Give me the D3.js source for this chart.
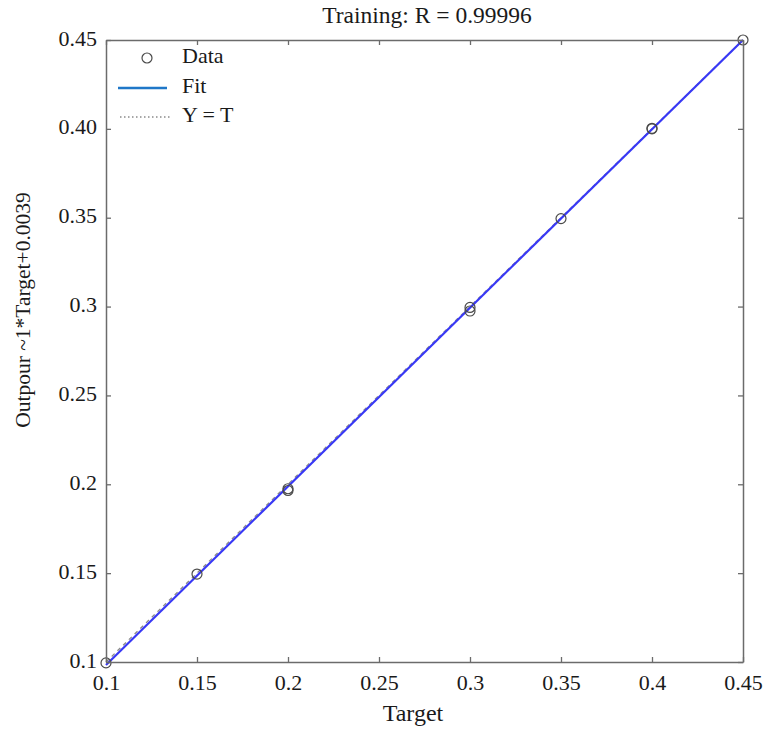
<!DOCTYPE html>
<html><head><meta charset="utf-8">
<script src="https://cdn.jsdelivr.net/npm/d3@7"></script>
<style>
html,body{margin:0;padding:0;background:#fff;}
svg{display:block;}
</style></head>
<body>
<script>
// ---- data ----
const targets = [0.1, 0.15, 0.2, 0.2, 0.3, 0.3, 0.35, 0.4, 0.4, 0.45];
const outputs = [0.0995, 0.1495, 0.1975, 0.1965, 0.2995, 0.2975, 0.3495, 0.4003, 0.4, 0.45];
const fitSlope = 1.005;
const fitIntercept = -0.0022;
const xTickValues = [0.1, 0.15, 0.2, 0.25, 0.3, 0.35, 0.4, 0.45];
const xTickLabels = ["0.1", "0.15", "0.2", "0.25", "0.3", "0.35", "0.4", "0.45"];
const yTickValues = [0.1, 0.15, 0.2, 0.25, 0.3, 0.35, 0.4, 0.45];
const yTickLabels = ["0.1", "0.15", "0.2", "0.25", "0.3", "0.35", "0.40", "0.45"];
const legendLabels = ["Data", "Fit", "Y = T"];
const titleText = "Training: R = 0.99996";
const xLabel = "Target";
const yLabel = "Outpour ~1*Target+0.0039";

// ---- layout ----
const W = 766, H = 730;
const L = 106, R = 743, T = 40, B = 662;
const axisColor = "#6b6b6b";
const fs = 22;
const FONT = "'Liberation Serif', 'Times New Roman', Times, 'DejaVu Serif', serif";

const svg = d3.select("body").append("svg").attr("width", W).attr("height", H)
  .style("font-family", FONT);

const x = d3.scaleLinear().domain([0.1, 0.45]).range([L, R]);
const y = d3.scaleLinear().domain([0.1, 0.45]).range([B, T]);

// Y = T dotted line
svg.append("line")
  .attr("x1", x(0.1)).attr("y1", y(0.1))
  .attr("x2", x(0.45)).attr("y2", y(0.45))
  .attr("stroke", "#8a8a8a").attr("stroke-width", 1.3)
  .attr("stroke-dasharray", "4,4");

// Fit line
const fitX = [0.1, 0.45];
svg.append("line")
  .attr("x1", x(fitX[0])).attr("y1", y(fitSlope * fitX[0] + fitIntercept))
  .attr("x2", x(fitX[1])).attr("y2", y(fitSlope * fitX[1] + fitIntercept))
  .attr("stroke", "#3838f5").attr("stroke-width", 2.2);

// Data markers
svg.append("g").selectAll("circle")
  .data(targets.map((t, i) => [t, outputs[i]]))
  .join("circle")
  .attr("cx", d => x(d[0])).attr("cy", d => y(d[1]))
  .attr("r", 5).attr("fill", "none")
  .attr("stroke", "#4a4a4a").attr("stroke-width", 1.2);

// Axes (box with inward ticks, mirrored)
const tk = 5;
const gx = svg.append("g").attr("transform", `translate(0,${B})`)
  .call(d3.axisBottom(x).tickValues(xTickValues).tickSizeInner(-tk).tickSizeOuter(0)
        .tickFormat((d, i) => xTickLabels[i]));
gx.selectAll("text").attr("dy", null).attr("y", 23).attr("dominant-baseline", "middle");
const gxt = svg.append("g").attr("transform", `translate(0,${T})`)
  .call(d3.axisTop(x).tickValues(xTickValues).tickSizeInner(-tk).tickSizeOuter(0).tickFormat(""));
const gy = svg.append("g").attr("transform", `translate(${L},0)`)
  .call(d3.axisLeft(y).tickValues(yTickValues).tickSizeInner(-tk).tickSizeOuter(0)
        .tickFormat((d, i) => yTickLabels[i]));
gy.selectAll("text").attr("x", -9).attr("dy", null).attr("dominant-baseline", "middle");
const gyr = svg.append("g").attr("transform", `translate(${R},0)`)
  .call(d3.axisRight(y).tickValues(yTickValues).tickSizeInner(-tk).tickSizeOuter(0).tickFormat(""));

[gx, gxt, gy, gyr].forEach(g => {
  g.attr("font-family", FONT).attr("font-size", fs);
  g.selectAll(".domain").attr("stroke", axisColor).attr("stroke-width", 1.5);
  g.selectAll(".tick line").attr("stroke", axisColor).attr("stroke-width", 1.3);
  g.selectAll("text").attr("fill", "#1a1a1a");
});

// Title
svg.append("text").attr("x", 427).attr("y", 18).attr("text-anchor", "middle")
  .attr("dominant-baseline", "middle").attr("font-size", 23.5).attr("fill", "#1a1a1a").text(titleText);
// X label
svg.append("text").attr("x", 413).attr("y", 715).attr("text-anchor", "middle")
  .attr("dominant-baseline", "middle").attr("font-size", 24).attr("fill", "#1a1a1a").text(xLabel);
// Y label
svg.append("text").attr("transform", `translate(25,310) rotate(-90)`).attr("text-anchor", "middle")
  .attr("dominant-baseline", "middle").attr("font-size", 21.5).attr("fill", "#1a1a1a").text(yLabel);

// Legend
const lg = svg.append("g");
const lgY = [58, 88, 117];
lg.append("circle").attr("cx", 147).attr("cy", lgY[0]).attr("r", 5)
  .attr("fill", "none").attr("stroke", "#4a4a4a").attr("stroke-width", 1.2);
lg.append("line").attr("x1", 118).attr("x2", 167).attr("y1", lgY[1]).attr("y2", lgY[1])
  .attr("stroke", "#1f77c8").attr("stroke-width", 2.4);
lg.append("line").attr("x1", 120).attr("x2", 170).attr("y1", lgY[2]).attr("y2", lgY[2])
  .attr("stroke", "#8a8a8a").attr("stroke-width", 1.3).attr("stroke-dasharray", "1.5,2.5");
lg.selectAll("text.lab").data(legendLabels).join("text").attr("class", "lab")
  .attr("x", 182).attr("y", (d, i) => lgY[i]).attr("dominant-baseline", "middle")
  .attr("font-size", fs).attr("fill", "#1a1a1a").text(d => d);
</script>
</body></html>
